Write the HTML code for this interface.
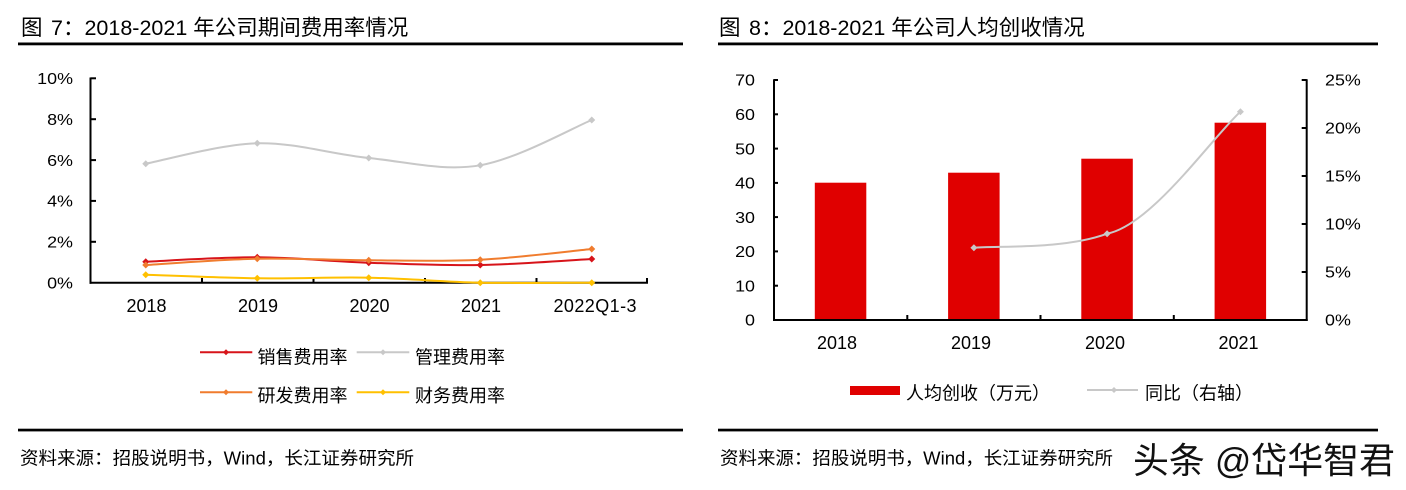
<!DOCTYPE html>
<html>
<head>
<meta charset="utf-8">
<style>
  html, body { margin: 0; padding: 0; background: #fff; }
  svg { display: block; }
  text { font-family: "Liberation Sans", "Noto Sans CJK SC", sans-serif; fill: #000; }
</style>
</head>
<body>
<svg width="1406" height="490" viewBox="0 0 1406 490" xmlns="http://www.w3.org/2000/svg">
  <rect x="0" y="0" width="1406" height="490" fill="#fff"/>

  <!-- ================= LEFT PANEL ================= -->
  <text x="21" y="35" font-size="21.5">图</text>
  <text x="51" y="35" font-size="21.5">7：2018-2021 年公司期间费用率情况</text>
  <rect x="18" y="42.5" width="665" height="2.8" fill="#000"/>

  <!-- y labels -->
  <g font-size="16" text-anchor="end">
    <text x="73" y="84" textLength="35.8" lengthAdjust="spacingAndGlyphs">10%</text>
    <text x="73" y="124.9" textLength="25.9" lengthAdjust="spacingAndGlyphs">8%</text>
    <text x="73" y="165.8" textLength="25.9" lengthAdjust="spacingAndGlyphs">6%</text>
    <text x="73" y="206.6" textLength="25.9" lengthAdjust="spacingAndGlyphs">4%</text>
    <text x="73" y="247.5" textLength="25.9" lengthAdjust="spacingAndGlyphs">2%</text>
    <text x="73" y="288.4" textLength="25.9" lengthAdjust="spacingAndGlyphs">0%</text>
  </g>

  <!-- axes -->
  <g stroke="#000" stroke-width="2" fill="none">
    <line x1="90.5" y1="77.5" x2="90.5" y2="283.7"/>
    <line x1="89.5" y1="282.7" x2="648" y2="282.7"/>
    <line x1="90.5" y1="78.3" x2="96" y2="78.3"/>
    <line x1="90.5" y1="119.2" x2="96" y2="119.2"/>
    <line x1="90.5" y1="160.1" x2="96" y2="160.1"/>
    <line x1="90.5" y1="200.9" x2="96" y2="200.9"/>
    <line x1="90.5" y1="241.8" x2="96" y2="241.8"/>
    <line x1="202" y1="282.7" x2="202" y2="278"/>
    <line x1="313.5" y1="282.7" x2="313.5" y2="278"/>
    <line x1="425" y1="282.7" x2="425" y2="278"/>
    <line x1="536.5" y1="282.7" x2="536.5" y2="278"/>
    <line x1="647" y1="282.7" x2="647" y2="278"/>
  </g>

  <!-- x labels -->
  <g font-size="18" text-anchor="middle">
    <text x="146.5" y="312">2018</text>
    <text x="258" y="312">2019</text>
    <text x="369.5" y="312">2020</text>
    <text x="481" y="312">2021</text>
    <text x="595" y="312" textLength="83" lengthAdjust="spacing">2022Q1-3</text>
  </g>

  <!-- series -->
  <g fill="none" stroke-width="2" stroke-linejoin="round" stroke-linecap="round">
    <path stroke="#C8C8C8" d="M145.75,163.7 C164.33,160.3 220.08,144.25 257.25,143.3 C294.42,142.35 331.58,154.33 368.75,158 C405.92,161.67 443.08,171.63 480.25,165.3 C517.42,158.97 573.17,127.55 591.75,120"/>
    <path stroke="#FFC000" d="M145.75,274.7 C164.33,275.3 220.08,277.8 257.25,278.3 C294.42,278.8 331.58,276.97 368.75,277.7 C405.92,278.43 443.08,281.87 480.25,282.7 C517.42,283.3 573.17,282.7 591.75,282.7"/>
    <path stroke="#D7141A" d="M145.75,261.7 C164.33,260.97 220.08,257.13 257.25,257.3 C294.42,257.47 331.58,261.42 368.75,262.7 C405.92,263.98 443.08,265.62 480.25,265 C517.42,264.38 573.17,260 591.75,259"/>
    <path stroke="#F07C2E" d="M145.75,265 C164.33,263.95 220.08,259.48 257.25,258.7 C294.42,257.92 331.58,260.13 368.75,260.3 C405.92,260.47 443.08,261.58 480.25,259.7 C517.42,257.82 573.17,250.78 591.75,249"/>
  </g>
  <!-- markers -->
  <g fill="#C8C8C8">
    <path d="M145.75,160.2 l3.5,3.5 -3.5,3.5 -3.5,-3.5z"/>
    <path d="M257.25,139.8 l3.5,3.5 -3.5,3.5 -3.5,-3.5z"/>
    <path d="M368.75,154.5 l3.5,3.5 -3.5,3.5 -3.5,-3.5z"/>
    <path d="M480.25,161.8 l3.5,3.5 -3.5,3.5 -3.5,-3.5z"/>
    <path d="M591.75,116.5 l3.5,3.5 -3.5,3.5 -3.5,-3.5z"/>
  </g>
  <g fill="#FFC000">
    <path d="M145.75,271.2 l3.5,3.5 -3.5,3.5 -3.5,-3.5z"/>
    <path d="M257.25,274.8 l3.5,3.5 -3.5,3.5 -3.5,-3.5z"/>
    <path d="M368.75,274.2 l3.5,3.5 -3.5,3.5 -3.5,-3.5z"/>
    <path d="M480.25,279.2 l3.5,3.5 -3.5,3.5 -3.5,-3.5z"/>
    <path d="M591.75,279.2 l3.5,3.5 -3.5,3.5 -3.5,-3.5z"/>
  </g>
  <g fill="#D7141A">
    <path d="M145.75,258.2 l3.5,3.5 -3.5,3.5 -3.5,-3.5z"/>
    <path d="M257.25,253.8 l3.5,3.5 -3.5,3.5 -3.5,-3.5z"/>
    <path d="M368.75,259.2 l3.5,3.5 -3.5,3.5 -3.5,-3.5z"/>
    <path d="M480.25,261.5 l3.5,3.5 -3.5,3.5 -3.5,-3.5z"/>
    <path d="M591.75,255.5 l3.5,3.5 -3.5,3.5 -3.5,-3.5z"/>
  </g>
  <g fill="#F07C2E">
    <path d="M145.75,261.5 l3.5,3.5 -3.5,3.5 -3.5,-3.5z"/>
    <path d="M257.25,255.2 l3.5,3.5 -3.5,3.5 -3.5,-3.5z"/>
    <path d="M368.75,256.8 l3.5,3.5 -3.5,3.5 -3.5,-3.5z"/>
    <path d="M480.25,256.2 l3.5,3.5 -3.5,3.5 -3.5,-3.5z"/>
    <path d="M591.75,245.5 l3.5,3.5 -3.5,3.5 -3.5,-3.5z"/>
  </g>

  <!-- left legend -->
  <g stroke-width="2">
    <line x1="200" y1="352.3" x2="252.3" y2="352.3" stroke="#D7141A"/>
    <line x1="356.7" y1="352.3" x2="409.3" y2="352.3" stroke="#C8C8C8"/>
    <line x1="200" y1="392.3" x2="252.3" y2="392.3" stroke="#F07C2E"/>
    <line x1="356.7" y1="392.3" x2="409.3" y2="392.3" stroke="#FFC000"/>
  </g>
  <path fill="#D7141A" d="M226,349.3 l3,3 -3,3 -3,-3z"/>
  <path fill="#C8C8C8" d="M383,349.3 l3,3 -3,3 -3,-3z"/>
  <path fill="#F07C2E" d="M226,389.3 l3,3 -3,3 -3,-3z"/>
  <path fill="#FFC000" d="M383,389.3 l3,3 -3,3 -3,-3z"/>
  <g font-size="18">
    <text x="257.5" y="363.5">销售费用率</text>
    <text x="415" y="363.5">管理费用率</text>
    <text x="257.5" y="402">研发费用率</text>
    <text x="415" y="402">财务费用率</text>
  </g>

  <rect x="18" y="428.7" width="665" height="2.7" fill="#000"/>
  <text x="20" y="464.5" font-size="18" textLength="394" lengthAdjust="spacingAndGlyphs">资料来源：招股说明书，Wind，长江证券研究所</text>

  <!-- ================= RIGHT PANEL ================= -->
  <text x="719" y="35" font-size="21.5">图</text>
  <text x="749" y="35" font-size="21.5">8：2018-2021 年公司人均创收情况</text>
  <rect x="718" y="42.5" width="660" height="2.8" fill="#000"/>

  <!-- bars -->
  <g fill="#E00000">
    <rect x="814.8" y="182.7" width="51.5" height="137.3"/>
    <rect x="948.1" y="172.7" width="51.5" height="147.3"/>
    <rect x="1081.3" y="158.7" width="51.5" height="161.3"/>
    <rect x="1214.6" y="122.7" width="51.5" height="197.3"/>
  </g>

  <!-- left y labels -->
  <g font-size="16" text-anchor="end">
    <text x="755" y="85.7" textLength="19.9" lengthAdjust="spacingAndGlyphs">70</text>
    <text x="755" y="120" textLength="19.9" lengthAdjust="spacingAndGlyphs">60</text>
    <text x="755" y="154.3" textLength="19.9" lengthAdjust="spacingAndGlyphs">50</text>
    <text x="755" y="188.6" textLength="19.9" lengthAdjust="spacingAndGlyphs">40</text>
    <text x="755" y="222.8" textLength="19.9" lengthAdjust="spacingAndGlyphs">30</text>
    <text x="755" y="257.1" textLength="19.9" lengthAdjust="spacingAndGlyphs">20</text>
    <text x="755" y="291.4" textLength="19.9" lengthAdjust="spacingAndGlyphs">10</text>
    <text x="755" y="325.7" textLength="10" lengthAdjust="spacingAndGlyphs">0</text>
  </g>
  <!-- right y labels -->
  <g font-size="16">
    <text x="1325" y="85.7" textLength="35.8" lengthAdjust="spacingAndGlyphs">25%</text>
    <text x="1325" y="133.7" textLength="35.8" lengthAdjust="spacingAndGlyphs">20%</text>
    <text x="1325" y="181.7" textLength="35.8" lengthAdjust="spacingAndGlyphs">15%</text>
    <text x="1325" y="229.7" textLength="35.8" lengthAdjust="spacingAndGlyphs">10%</text>
    <text x="1325" y="277.7" textLength="25.9" lengthAdjust="spacingAndGlyphs">5%</text>
    <text x="1325" y="325.7" textLength="25.9" lengthAdjust="spacingAndGlyphs">0%</text>
  </g>

  <!-- axes -->
  <g stroke="#000" stroke-width="2" fill="none">
    <line x1="774" y1="79.2" x2="774" y2="321"/>
    <line x1="1306.7" y1="79.2" x2="1306.7" y2="321"/>
    <line x1="773" y1="320" x2="1307.7" y2="320"/>
    <line x1="774" y1="80" x2="778" y2="80"/>
    <line x1="774" y1="114.3" x2="778" y2="114.3"/>
    <line x1="774" y1="148.6" x2="778" y2="148.6"/>
    <line x1="774" y1="182.9" x2="778" y2="182.9"/>
    <line x1="774" y1="217.1" x2="778" y2="217.1"/>
    <line x1="774" y1="251.4" x2="778" y2="251.4"/>
    <line x1="774" y1="285.7" x2="778" y2="285.7"/>
    <line x1="1306.7" y1="80" x2="1301.7" y2="80"/>
    <line x1="1306.7" y1="128" x2="1301.7" y2="128"/>
    <line x1="1306.7" y1="176" x2="1301.7" y2="176"/>
    <line x1="1306.7" y1="224" x2="1301.7" y2="224"/>
    <line x1="1306.7" y1="272" x2="1301.7" y2="272"/>
    <line x1="907.3" y1="320" x2="907.3" y2="315"/>
    <line x1="1040.5" y1="320" x2="1040.5" y2="315"/>
    <line x1="1173.8" y1="320" x2="1173.8" y2="315"/>
  </g>

  <!-- x labels -->
  <g font-size="18" text-anchor="middle">
    <text x="837" y="349">2018</text>
    <text x="971" y="349">2019</text>
    <text x="1105" y="349">2020</text>
    <text x="1238.5" y="349">2021</text>
  </g>

  <!-- growth line -->
  <path fill="none" stroke="#C8C8C8" stroke-width="2" stroke-linecap="round"
        d="M973.9,247.7 C996.1,245.4 1062.7,250 1107.1,233.7 C1151.5,225 1210,140 1240.4,111.7"/>
  <g fill="#C8C8C8">
    <path d="M973.9,244.2 l3.5,3.5 -3.5,3.5 -3.5,-3.5z"/>
    <path d="M1107.1,230.2 l3.5,3.5 -3.5,3.5 -3.5,-3.5z"/>
    <path d="M1240.4,108.2 l3.5,3.5 -3.5,3.5 -3.5,-3.5z"/>
  </g>

  <!-- right legend -->
  <rect x="850" y="386" width="50" height="9" fill="#E00000"/>
  <text x="906" y="399.5" font-size="18">人均创收（万元）</text>
  <line x1="1087" y1="390" x2="1138" y2="390" stroke="#C8C8C8" stroke-width="2"/>
  <path fill="#C8C8C8" d="M1114,387 l3,3 -3,3 -3,-3z"/>
  <text x="1145" y="399.5" font-size="18">同比（右轴）</text>

  <rect x="718" y="428.7" width="660" height="2.7" fill="#000"/>
  <text x="720" y="464.5" font-size="18" textLength="393" lengthAdjust="spacingAndGlyphs">资料来源：招股说明书，Wind，长江证券研究所</text>

  <!-- watermark -->
  <text x="1133" y="473" font-size="36" textLength="262" lengthAdjust="spacingAndGlyphs" style="fill:#111">头条 @岱华智君</text>
</svg>
</body>
</html>
